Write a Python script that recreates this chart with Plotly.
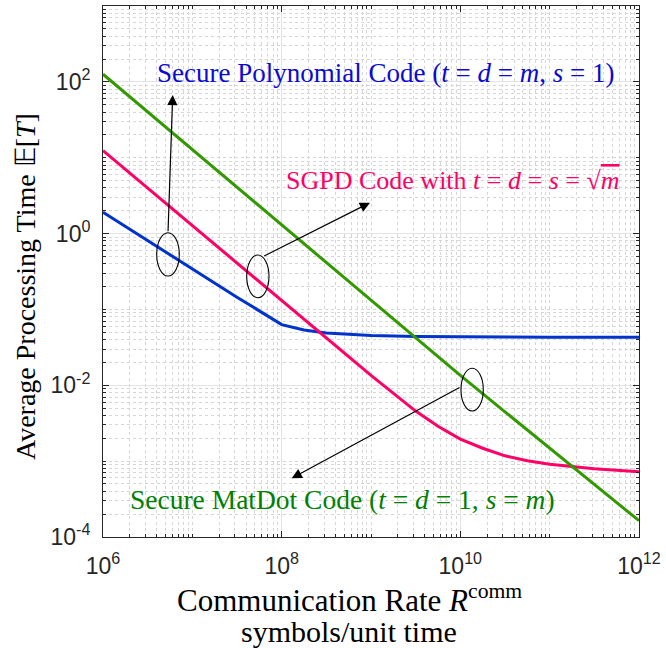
import plotly.graph_objects as go

# ---------------- data ----------------
rate_poly = [1e6, 3.16e6, 1e7, 3.16e7, 1e8, 1.78e8, 3.16e8, 1e9, 3.16e9, 1e10, 1e11, 1e12]
time_poly = [1.91, 0.813, 0.339, 0.145, 0.0631, 0.0537, 0.0490, 0.0452, 0.0439, 0.0434, 0.0431, 0.0430]

rate_sgpd = [1e6, 3.16e6, 1e7, 3.16e7, 1e8, 3.16e8, 1e9, 3.16e9, 5.62e9, 1e10,
             1.78e10, 3.16e10, 5.62e10, 1e11, 3.16e11, 1e12]
time_sgpd = [12.39, 3.98, 1.276, 0.407, 0.132, 0.0427, 0.01349, 4.57e-3, 2.88e-3, 1.95e-3,
             1.48e-3, 1.175e-3, 1.01e-3, 9.12e-4, 7.94e-4, 7.24e-4]

rate_matdot = [1e6, 3.16e6, 1e7, 3.16e7, 1e8, 3.16e8, 1e9, 3.16e9, 1e10, 3.16e10, 1e11, 3.16e11, 1e12]
time_matdot = [125.9, 40.3, 12.9, 4.12, 1.318, 0.422, 0.135, 0.0422, 0.01349, 4.47e-3, 1.479e-3, 4.90e-4, 1.64e-4]

x_ticks = [1e6, 1e8, 1e10, 1e12]
x_ticktext = ["10<sup>6</sup>", "10<sup>8</sup>", "10<sup>10</sup>", "10<sup>12</sup>"]
y_ticks = [1e-4, 1e-2, 1e0, 1e2]
y_ticktext = ["10<sup>-4</sup>", "10<sup>-2</sup>", "10<sup>0</sup>", "10<sup>2</sup>"]

label_poly = "Secure Polynomial Code (<i>t</i> = <i>d</i> = <i>m</i>, <i>s</i> = 1)"
label_sgpd = "SGPD Code with <i>t</i> = <i>d</i> = <i>s</i> = √<span style='text-decoration:overline'><i>m</i></span>"
label_matdot = "Secure MatDot Code (<i>t</i> = <i>d</i> = 1, <i>s</i> = <i>m</i>)"
xtitle_1 = "Communication Rate <i>R</i><sup>comm</sup>"
xtitle_2 = "symbols/unit time"
ytitle = "Average Processing Time 𝔼[<i>T</i>]"

# ---------------- styling ----------------
C_BLUE = "rgb(0,51,204)"
C_PINK = "rgb(255,0,102)"
C_GREEN = "rgb(51,153,0)"
SERIF = "Liberation Serif, Times New Roman, serif"
SANS = "Liberation Sans, Arial, Helvetica, sans-serif"

W, H = 666, 648
L, R, T, B = 103, 27, 6, 111
PW, PH = W - L - R, H - T - B


def px(x):
    return (x - L) / PW


def py(y):
    return (H - B - y) / PH


fig = go.Figure()
for xs, ys, col in [(rate_poly, time_poly, C_BLUE),
                    (rate_sgpd, time_sgpd, C_PINK),
                    (rate_matdot, time_matdot, C_GREEN)]:
    fig.add_trace(go.Scatter(x=xs, y=ys, mode="lines",
                             line=dict(color=col, width=3), showlegend=False,
                             hoverinfo="skip"))

axis_common = dict(
    type="log", showline=True, linecolor="#262626", linewidth=1, mirror="allticks",
    ticks="inside", ticklen=6, tickwidth=1, tickcolor="#262626",
    showgrid=True, gridcolor="#e3e3e3", gridwidth=1, automargin=False,
    zeroline=False,
    tickfont=dict(family=SANS, size=23, color="#262626"),
    minor=dict(dtick="D1", ticks="inside", ticklen=3, tickcolor="#262626",
               showgrid=True, gridcolor="#d6d6d6", griddash="dot", gridwidth=1),
)

fig.update_xaxes(**axis_common, range=[6, 12], tickvals=x_ticks, ticktext=x_ticktext,
                 ticklabelstandoff=8)
fig.update_yaxes(**axis_common, range=[-4, 3], tickvals=y_ticks, ticktext=y_ticktext,
                 ticklabelstandoff=7)

annotations = [
    dict(text=label_poly, x=px(155), y=py(73), xanchor="left", yanchor="middle",
         font=dict(family=SERIF, size=27, color="rgb(10,10,210)")),
    dict(text=label_sgpd, x=px(284), y=py(180), xanchor="left", yanchor="middle",
         font=dict(family=SERIF, size=26, color=C_PINK)),
    dict(text=label_matdot, x=px(128), y=py(500), xanchor="left", yanchor="middle",
         font=dict(family=SERIF, size=27.5, color="rgb(0,128,0)")),
    dict(text=xtitle_1, x=px(349), y=py(599), xanchor="center", yanchor="middle",
         font=dict(family=SERIF, size=31, color="#000")),
    dict(text=xtitle_2, x=px(349), y=py(631), xanchor="center", yanchor="middle",
         font=dict(family=SERIF, size=30, color="#000")),
    dict(text=ytitle, x=px(25), y=py(287), xanchor="center", yanchor="middle",
         textangle=-90, font=dict(family=SERIF, size=28, color="#000")),
]
for a in annotations:
    a.update(xref="paper", yref="paper", showarrow=False)

# arrows: (head_x, head_y, tail_x, tail_y) in pixels
arrows = [(172.7, 95, 168, 232.7), (370, 202.7, 262.7, 256.7), (291.7, 478.3, 461, 386.7)]
for hx, hy, tx, ty in arrows:
    annotations.append(dict(x=px(hx), y=py(hy), xref="paper", yref="paper",
                            ax=tx - hx, ay=ty - hy, text="", showarrow=True,
                            arrowhead=2, arrowsize=1.7, arrowwidth=1.2,
                            arrowcolor="#000", standoff=0, startstandoff=0))

ellipses = [(156.7, 179.3, 232.7, 276), (246.7, 269, 255, 297.7), (461, 483.3, 368.3, 411)]
shapes = []
for x0, x1, y0, y1 in ellipses:
    shapes.append(dict(type="circle", xref="paper", yref="paper",
                       x0=px(x0), x1=px(x1), y0=py(y1), y1=py(y0),
                       line=dict(color="#000", width=1.1)))

fig.update_layout(
    width=W, height=H, margin=dict(l=L, r=R, t=T, b=B, autoexpand=False),
    paper_bgcolor="white", plot_bgcolor="white",
    annotations=annotations, shapes=shapes, showlegend=False,
)

fig.write_html("out.html", config={"displayModeBar": False},
               post_script="document.body.style.margin='0';document.body.style.padding='0';")
